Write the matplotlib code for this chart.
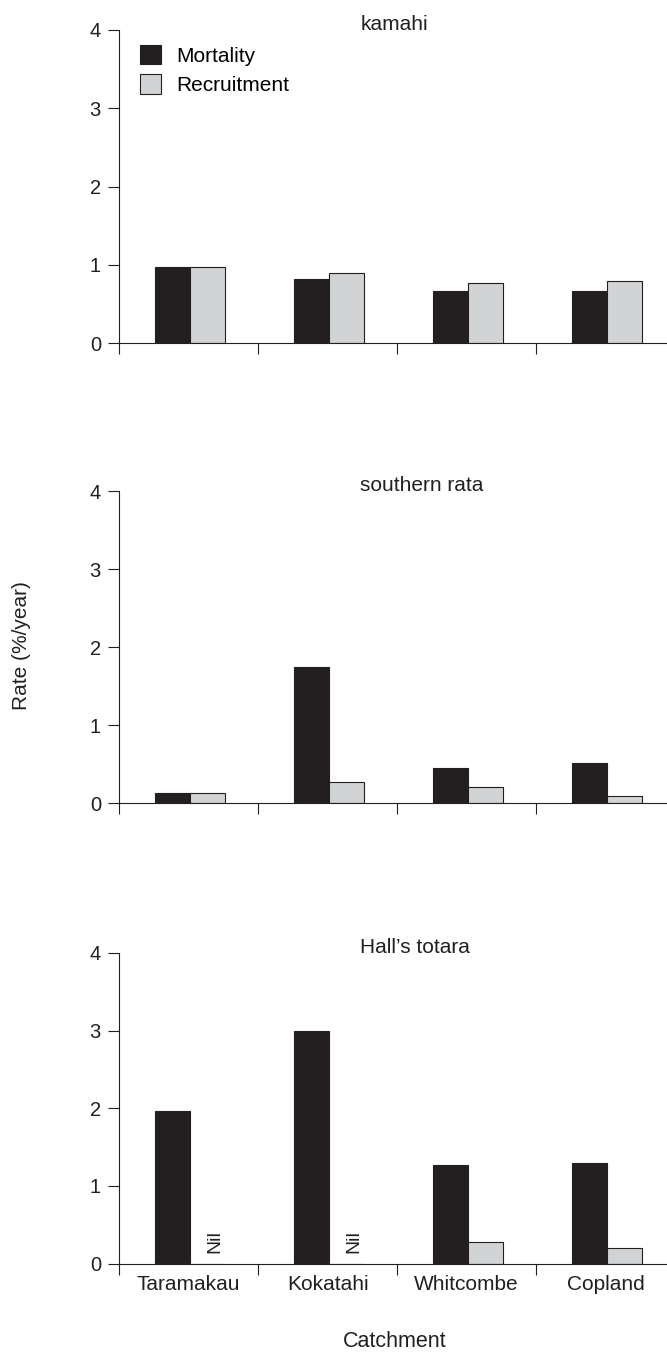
import numpy as np
import matplotlib.pyplot as plt

plt.rcParams['font.family'] = ['Liberation Sans', 'DejaVu Sans']

catchments = ['Taramakau', 'Kokatahi', 'Whitcombe', 'Copland']
species = ['kamahi', 'southern rata', 'Hall\u2019s totara']

# Rate (%/year); NaN = nil recruitment
mortality = [
    [0.97, 0.82, 0.66, 0.66],
    [0.13, 1.75, 0.45, 0.51],
    [1.96, 2.99, 1.27, 1.30],
]
recruitment = [
    [0.97, 0.90, 0.77, 0.79],
    [0.13, 0.27, 0.205, 0.09],
    [np.nan, np.nan, 0.28, 0.20],
]

dark = '#231f20'
light = '#d1d3d4'

fig = plt.figure(figsize=(6.67, 13.56), dpi=100)
panel_pos = [(0.7470, 0.2309), (0.4076, 0.2303), (0.0681, 0.2291)]

x = np.arange(len(catchments))
w = 0.25

for i, (bottom, height) in enumerate(panel_pos):
    ax = fig.add_axes([0.1784, bottom, 0.8216, height])
    m = np.array(mortality[i])
    r = np.array(recruitment[i])
    ax.bar(x - w / 2 + 0.01, m, w, color=dark, edgecolor=dark, linewidth=0.8,
           label='Mortality')
    ax.bar(x + w / 2 + 0.01, np.nan_to_num(r), w, color=light, edgecolor=dark,
           linewidth=0.8, label='Recruitment')
    for xi, ri in zip(x, r):
        if np.isnan(ri):
            ax.text(xi + 0.19, 0.29, 'Nil', rotation=90, ha='center',
                    va='center', fontsize=14, color=dark)

    ax.set_xlim(-0.5, 3.44)
    ax.set_ylim(0, 4)
    ax.set_yticks([0, 1, 2, 3, 4])
    ax.set_xticks(x)
    ax.set_xticks(x - 0.5, minor=True)
    if i == 2:
        ax.set_xticklabels(catchments)
    else:
        ax.set_xticklabels([])
    ax.tick_params(axis='x', which='major', length=0, pad=8, labelsize=15,
                   colors=dark)
    ax.tick_params(axis='x', which='minor', direction='out', length=8,
                   width=0.8, color=dark)
    ax.tick_params(axis='y', direction='out', length=8, width=0.8, pad=5,
                   labelsize=14.5, colors=dark)
    for s in ['top', 'right']:
        ax.spines[s].set_visible(False)
    for s in ['left', 'bottom']:
        ax.spines[s].set_color(dark)
        ax.spines[s].set_linewidth(0.8)
    ax.spines['left'].set_bounds(0, 4)
    ax.text(1.234, 4.0, species[i], ha='left', va='baseline', fontsize=15,
            color=dark, clip_on=False)

    if i == 0:
        ax.legend(loc='upper left', bbox_to_anchor=(0.038, 0.952),
                  frameon=False, fontsize=15, handlelength=1.04,
                  handleheight=1.04, handletextpad=0.72, labelspacing=0.42,
                  borderpad=0, borderaxespad=0)

fig.text(0.0315, 0.5236, 'Rate (%/year)', rotation=90, ha='center',
         va='center', fontsize=15, color=dark)
fig.text(0.592, 0.0065, 'Catchment', ha='center', va='baseline', fontsize=15.5,
         color=dark)

plt.savefig('out.png', dpi=100)
plt.close()
